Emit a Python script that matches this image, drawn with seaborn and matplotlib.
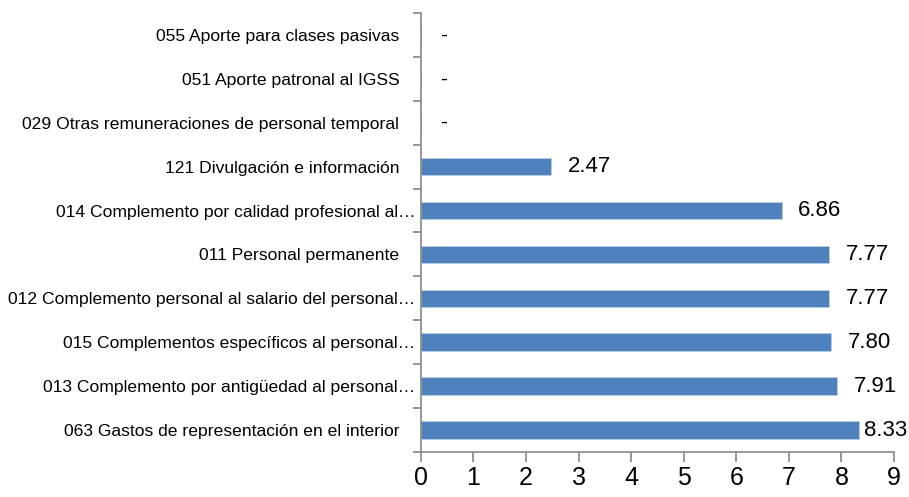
import matplotlib
matplotlib.use("Agg")
import matplotlib.pyplot as plt
import matplotlib.transforms as mtransforms
import pandas as pd
import seaborn as sns

# categories from top to bottom, as in the picture
categories = [
    "055 Aporte para clases pasivas",
    "051 Aporte patronal al IGSS",
    "029 Otras remuneraciones de personal temporal",
    "121 Divulgación e información",
    "014 Complemento por calidad profesional al…",
    "011 Personal permanente",
    "012 Complemento personal al salario del personal…",
    "015 Complementos específicos al personal…",
    "013 Complemento por antigüedad al personal…",
    "063 Gastos de representación en el interior",
]
values = [0, 0, 0, 2.47, 6.86, 7.77, 7.77, 7.80, 7.91, 8.33]
xticks = list(range(0, 10))

df = pd.DataFrame({"partida": categories, "valor": values})

sns.set_style("white")
plt.rcParams["font.family"] = ["Liberation Sans Narrow", "Liberation Sans", "DejaVu Sans"]
plt.rcParams["text.color"] = "black"
plt.rcParams["xtick.color"] = "black"
plt.rcParams["ytick.color"] = "black"

fig = plt.figure(figsize=(9.09, 4.97), dpi=100)
ax = fig.add_axes([0.463, 0.0905, 0.5205, 0.8835])

sns.barplot(data=df, x="valor", y="partida", orient="h", color="#4F81BD",
            saturation=1, width=0.4, edgecolor="#B9CDE5", linewidth=0.6, ax=ax)

ax.set_xlim(0, 9)
ax.set_xticks(xticks)
ax.set_xlabel("")
ax.set_ylabel("")

for i, v in enumerate(values):
    if v == 0:
        ax.text(0.36, i, "-", va="center", ha="left", fontsize=15)
    else:
        ax.text(min(v + 0.32, 8.42), i, f"{v:.2f}", va="center", ha="left", fontsize=16)

# category ticks sit between the bars
ax.set_yticks([i + 0.5 for i in range(-1, len(categories))], minor=True)
ax.tick_params(axis="y", which="major", left=False, length=0, pad=4, labelsize=12.6)
ax.tick_params(axis="y", which="minor", left=True, length=6, color="#868686", width=1.2,
               direction="out")
ax.tick_params(axis="x", bottom=True, length=7, color="#868686", width=1.2, direction="out",
               labelsize=18, pad=3)

shift = mtransforms.ScaledTranslation(-16 / 100, 0, fig.dpi_scale_trans)
for lab in ax.get_yticklabels():
    if not lab.get_text().endswith("…"):
        lab.set_transform(lab.get_transform() + shift)

for side in ["top", "right"]:
    ax.spines[side].set_visible(False)
for side in ["left", "bottom"]:
    ax.spines[side].set_color("#868686")
    ax.spines[side].set_linewidth(1.2)

fig.savefig("out.png", dpi=100)
